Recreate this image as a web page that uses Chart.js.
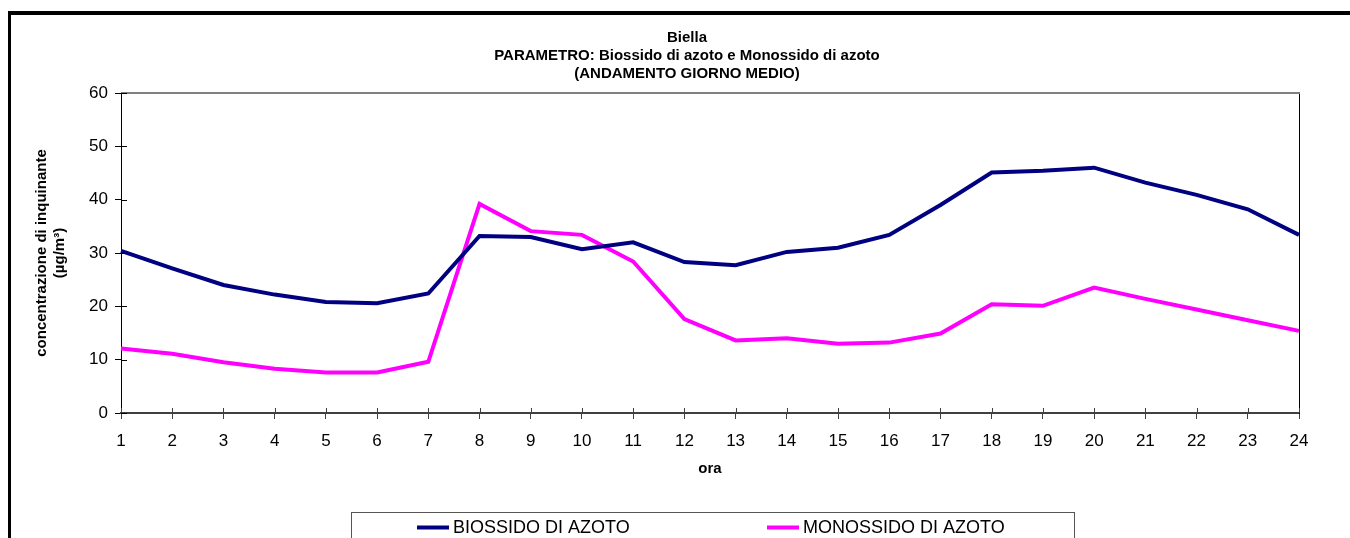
<!DOCTYPE html>
<html lang="it">
<head>
<meta charset="utf-8">
<title>Biella - NO2 e NO</title>
<script src="https://cdn.jsdelivr.net/npm/chart.js@4/dist/chart.umd.min.js"></script>
<style>
    html, body { margin: 0; padding: 0; background: #fff; }
    #contenitore { width: 1350px; height: 538px; position: relative; }
</style>
</head>
<body>
<div id="contenitore"><canvas id="grafico-giorno"></canvas></div>
<script>
const ore        = ['1','2','3','4','5','6','7','8','9','10','11','12','13','14','15','16','17','18','19','20','21','22','23','24'];
const biossido   = [30.4, 27.1, 24.0, 22.2, 20.8, 20.6, 22.4, 33.2, 33.0, 30.7, 32.0, 28.3, 27.7, 30.2, 31.0, 33.4, 39.0, 45.1, 45.4, 46.0, 43.2, 40.9, 38.2, 33.4];
const monossido  = [12.1, 11.1, 9.5, 8.3, 7.6, 7.6, 9.6, 39.2, 34.1, 33.4, 28.4, 17.6, 13.6, 14.0, 13.0, 13.2, 14.9, 20.4, 20.1, 23.5, 21.4, 19.4, 17.4, 15.4];
const nomiSerie  = ['BIOSSIDO DI AZOTO', 'MONOSSIDO DI AZOTO'];
const coloriSerie = ['#000080', '#FF00FF'];
const titolo     = ['Biella', 'PARAMETRO: Biossido di azoto e Monossido di azoto', '(ANDAMENTO GIORNO MEDIO)'];
const titoloY    = ['concentrazione di inquinante', '(µg/m³)'];
const titoloX    = 'ora';

const FONT = 'Liberation Sans, Arial, Helvetica, sans-serif';

// cornice esterna, bordi del grafico, tacche interne e legenda in riquadro
const cornice = {
    id: 'cornice',
    beforeDraw(chart) {
        const ctx = chart.ctx;
        ctx.save();
        ctx.fillStyle = '#000';
        ctx.fillRect(8, 11, chart.width - 8, 4);
        ctx.fillRect(8, 11, 3, chart.height - 11);
        ctx.restore();
    },
    afterDraw(chart) {
        const { ctx, chartArea: a } = chart;
        const sx = chart.scales.x, sy = chart.scales.y;
        ctx.save();

        // bordo superiore grigio
        ctx.strokeStyle = '#808080';
        ctx.lineWidth = 2;
        ctx.beginPath();
        ctx.moveTo(a.left, a.top);
        ctx.lineTo(a.right + 1, a.top);
        ctx.stroke();

        // metà interna delle tacche
        ctx.lineWidth = 1;
        ctx.strokeStyle = '#404040';
        ctx.beginPath();
        sx.ticks.forEach((t, i) => {
            const x = Math.round(sx.getPixelForTick(i)) + 0.5;
            ctx.moveTo(x, a.bottom);
            ctx.lineTo(x, a.bottom - 5);
        });
        ctx.stroke();
        ctx.strokeStyle = '#000';
        ctx.beginPath();
        sy.ticks.forEach((t, i) => {
            const y = Math.round(sy.getPixelForTick(i)) + 0.5;
            ctx.moveTo(a.left, y);
            ctx.lineTo(a.left + 6, y);
        });
        ctx.stroke();

        // legenda
        ctx.strokeStyle = '#555';
        ctx.lineWidth = 1;
        ctx.strokeRect(351.5, 512.5, 723, 40);
        const posizioni = [417, 767];
        ctx.font = '18px ' + FONT;
        ctx.textBaseline = 'middle';
        ctx.textAlign = 'left';
        chart.data.datasets.forEach((ds, i) => {
            const x0 = posizioni[i];
            ctx.strokeStyle = ds.borderColor;
            ctx.lineWidth = 4;
            ctx.beginPath();
            ctx.moveTo(x0, 527.5);
            ctx.lineTo(x0 + 32, 527.5);
            ctx.stroke();
            ctx.fillStyle = '#000';
            ctx.fillText(ds.label, x0 + 36, 528);
        });
        ctx.restore();
    }
};

function creaGrafico() {
    const canvas = document.getElementById('grafico-giorno');
    return new Chart(canvas, {
        type: 'line',
        data: {
            labels: ore,
            datasets: [
                { label: nomiSerie[0], data: biossido,  borderColor: coloriSerie[0], backgroundColor: coloriSerie[0], yAxisID: 'y' },
                { label: nomiSerie[1], data: monossido, borderColor: coloriSerie[1], backgroundColor: coloriSerie[1], yAxisID: 'y' }
            ]
        },
        options: {
            responsive: true,
            maintainAspectRatio: false,
            devicePixelRatio: 1,
            animation: false,
            elements: {
                line: { borderWidth: 4, tension: 0, borderCapStyle: 'butt', borderJoinStyle: 'miter' },
                point: { radius: 0, hoverRadius: 0 }
            },
            layout: { padding: { left: 24, right: 0, top: 20, bottom: 50 } },
            plugins: {
                legend: { display: false },
                tooltip: { enabled: false },
                title: {
                    display: true,
                    text: titolo,
                    color: '#000',
                    font: { family: FONT, size: 15, weight: 'bold', lineHeight: '18px' },
                    padding: { top: 9, bottom: 10 }
                }
            },
            scales: {
                x: {
                    offset: false,
                    grid: { drawOnChartArea: false, tickLength: 6, color: '#404040', lineWidth: 1 },
                    border: { color: '#404040', width: 2 },
                    ticks: { color: '#000', padding: 12, maxRotation: 0, autoSkip: false, font: { family: FONT, size: 17 } },
                    title: {
                        display: true, text: titoloX, color: '#000',
                        font: { family: FONT, size: 15, weight: 'bold', lineHeight: '18px' },
                        padding: { top: 0, bottom: 10 }
                    },
                    afterFit: s => { s.height = 75; }
                },
                y: {
                    min: 0, max: 60,
                    grid: { drawOnChartArea: false, tickLength: 6, color: '#000', lineWidth: 1 },
                    border: { color: '#000', width: 1 },
                    ticks: { stepSize: 10, color: '#000', padding: 7, font: { family: FONT, size: 17 } },
                    title: {
                        display: true, text: titoloY, color: '#000',
                        font: { family: FONT, size: 15, weight: 'bold', lineHeight: '18px' },
                        padding: { top: 9, bottom: 0 }
                    },
                    afterFit: s => { s.width = 97; }
                },
                destra: {
                    type: 'linear',
                    position: 'right',
                    grid: { drawOnChartArea: false, drawTicks: false },
                    border: { color: '#000', width: 1 },
                    ticks: { display: false },
                    afterFit: s => { s.width = 51; }
                }
            }
        },
        plugins: [cornice]
    });
}

document.addEventListener('DOMContentLoaded', creaGrafico);
</script>
</body>
</html>
